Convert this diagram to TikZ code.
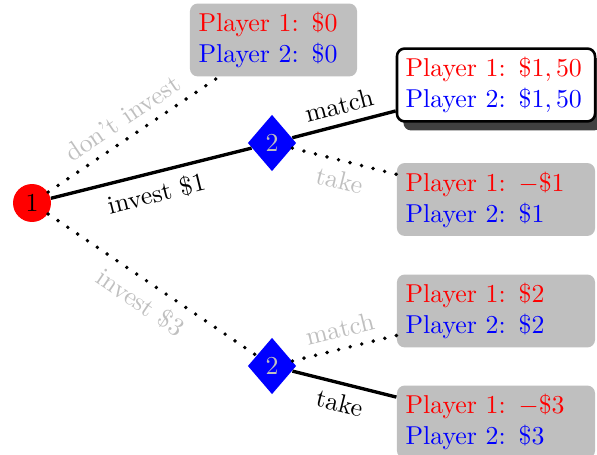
\documentclass[tikz,border=0pt]{standalone}
\usetikzlibrary{shapes.geometric,shadows}
\begin{document}
\begin{tikzpicture}[x=0.387pt,y=-0.387pt,
  rootnode/.style={circle,fill=red,inner sep=0pt,minimum size=14.7pt},
  diam/.style={diamond,fill=blue,inner sep=0pt,minimum width=18.8pt,minimum height=21.9pt,text=lightgray},
  leaf/.style={fill=lightgray,rounded corners=3pt,align=left,text width=70pt,inner sep=3.33pt},
  best/.style={draw=black,line width=1pt,fill=white,drop shadow={shadow xshift=2.5pt,shadow yshift=-3.5pt,fill=black!75,opacity=1}},
  sol/.style={line width=1.3pt},
  dots/.style={line width=1.5pt,line cap=round,dash pattern=on 0pt off 4.6pt},
  lbl/.style={midway,sloped},
  faded/.style={text=lightgray}
]
\useasboundingbox (0,0) rectangle (597,455);
\node[rootnode] (r) at (32,203) {1};
\node[diam] (d1) at (272,143) {2};
\node[diam] (d2) at (272,366) {2};
\node[leaf,text width=58pt] (l0) at (273.5,40) {\textcolor{red}{Player 1: \$0}\\\textcolor{blue}{Player 2: \$0}};
\node[leaf,best] (l1) at (496,85) {\textcolor{red}{Player 1: $\$1,50$}\\\textcolor{blue}{Player 2: $\$1,50$}};
\node[leaf] (l2) at (496,199.5) {\textcolor{red}{Player 1: $-\$1$}\\\textcolor{blue}{Player 2: \$1}};
\node[leaf] (l3) at (496,311) {\textcolor{red}{Player 1: \$2}\\\textcolor{blue}{Player 2: \$2}};
\node[leaf] (l4) at (496,422) {\textcolor{red}{Player 1: $-\$3$}\\\textcolor{blue}{Player 2: \$3}};
\draw[dots] (r) -- node[lbl,above,faded]{don't invest} (l0);
\draw[sol] (r) -- node[lbl,below]{invest \$1} (d1);
\draw[dots] (r) -- node[lbl,below,faded]{invest \$3} (d2);
\draw[sol] (d1) -- node[lbl,above]{match} (l1);
\draw[dots] (d1) -- node[lbl,below,faded]{take} (l2);
\draw[dots] (d2) -- node[lbl,above,faded]{match} (l3);
\draw[sol] (d2) -- node[lbl,below]{take} (l4);
\end{tikzpicture}
\end{document}
